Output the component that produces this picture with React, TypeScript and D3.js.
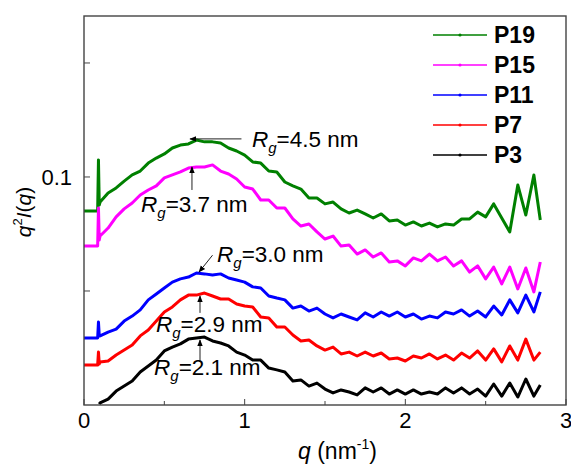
import React from "react";
import * as d3 from "d3";

// q values (nm^-1): a short lead-in near the beam stop, then the main grid
const qLead = [0, 0.085, 0.09, 0.095];
const qMain = [...d3.range(2, 57).map((i) => +(i * 0.05).toFixed(2)), 2.84];

// q^2 I(q), stacked curves
const p19Lead = [0.0851, 0.0851, 0.1075, 0.0877];
const p19 = [
  0.089, 0.093, 0.0952, 0.0982, 0.1009, 0.1026, 0.1061, 0.1083, 0.1101, 0.1127,
  0.114, 0.1145, 0.1162, 0.1154, 0.1154, 0.1149, 0.1127, 0.1114, 0.1096, 0.1066,
  0.1061, 0.1026, 0.1022, 0.0978, 0.0961, 0.0947, 0.0908, 0.0908, 0.0882, 0.089,
  0.086, 0.0842, 0.0855, 0.0838, 0.082, 0.0838, 0.0807, 0.0811, 0.0789, 0.0803,
  0.0785, 0.0798, 0.0781, 0.0794, 0.0789, 0.0816, 0.0816, 0.0846, 0.0825, 0.0882,
  0.082, 0.0759, 0.0965, 0.0833, 0.1009, 0.0811,
];
const p15Lead = [0.0697, 0.0697, 0.0864, 0.0724];
const p15 = [
  0.0741, 0.0776, 0.0825, 0.086, 0.0886, 0.0921, 0.0943, 0.0961, 0.0996, 0.1009,
  0.1022, 0.1039, 0.1044, 0.1044, 0.1053, 0.1026, 0.1013, 0.0991, 0.0956, 0.0947,
  0.0899, 0.0899, 0.0864, 0.0864, 0.0816, 0.0785, 0.0794, 0.0759, 0.0728, 0.0741,
  0.0697, 0.0702, 0.0662, 0.068, 0.0649, 0.0667, 0.0627, 0.0632, 0.061, 0.0645,
  0.0632, 0.0662, 0.0632, 0.0649, 0.061, 0.0632, 0.0583, 0.061, 0.0553, 0.0605,
  0.0531, 0.0605, 0.0509, 0.0601, 0.0496, 0.0627,
];
const p11Lead = [0.0294, 0.0294, 0.0364, 0.0303];
const p11 = [
  0.0303, 0.032, 0.0333, 0.0368, 0.039, 0.0417, 0.0461, 0.0487, 0.0513, 0.0539,
  0.0553, 0.0561, 0.0579, 0.0575, 0.057, 0.0575, 0.0557, 0.0548, 0.0539, 0.0518,
  0.0513, 0.0478, 0.0469, 0.0461, 0.0425, 0.0434, 0.0412, 0.0425, 0.0399, 0.0382,
  0.0399, 0.0386, 0.0373, 0.0404, 0.0386, 0.0408, 0.039, 0.0408, 0.0386, 0.0399,
  0.0377, 0.039, 0.0382, 0.0408, 0.0399, 0.0417, 0.039, 0.0412, 0.0386, 0.0434,
  0.0395, 0.0461, 0.0404, 0.0482, 0.0408, 0.0496,
];
const p7Lead = [0.0175, 0.0175, 0.0232, 0.018];
const p7 = [
  0.0189, 0.0193, 0.0219, 0.0241, 0.0263, 0.0303, 0.0329, 0.0368, 0.0408, 0.043,
  0.0461, 0.0482, 0.0482, 0.0491, 0.0478, 0.0465, 0.0465, 0.0443, 0.0434, 0.043,
  0.0386, 0.0382, 0.0342, 0.0342, 0.0307, 0.0281, 0.0285, 0.0259, 0.0241, 0.0254,
  0.0224, 0.0232, 0.0215, 0.0232, 0.0215, 0.0228, 0.0202, 0.0206, 0.0193, 0.0215,
  0.0206, 0.0224, 0.0202, 0.0219, 0.0197, 0.0228, 0.0206, 0.0237, 0.0197, 0.0246,
  0.0189, 0.0259, 0.0197, 0.0289, 0.0197, 0.0232,
];
const p3Lead = [null, null, null, 0.0004];
const p3 = [
  0.0009, 0.0026, 0.0061, 0.0083, 0.0105, 0.0145, 0.0171, 0.0197, 0.0237, 0.0254,
  0.0268, 0.0289, 0.0294, 0.0298, 0.0281, 0.0272, 0.0259, 0.0232, 0.0219, 0.0197,
  0.0197, 0.0162, 0.0154, 0.0145, 0.0105, 0.011, 0.0083, 0.0096, 0.007, 0.0053,
  0.0066, 0.0057, 0.0044, 0.0075, 0.0057, 0.0075, 0.0048, 0.0066, 0.0048, 0.0066,
  0.0048, 0.0057, 0.0048, 0.0075, 0.0053, 0.0075, 0.0048, 0.007, 0.0039, 0.0092,
  0.0039, 0.0096, 0.0035, 0.0114, 0.0039, 0.0088,
];

const seriesNames = ["P19", "P15", "P11", "P7", "P3"];
const seriesColors = ["#008000", "#ff00ff", "#0000ff", "#ff0000", "#000000"];
const seriesLeads = [p19Lead, p15Lead, p11Lead, p7Lead, p3Lead];
const seriesMain = [p19, p15, p11, p7, p3];

const xTicks = [0, 1, 2, 3];
const xMinor = [0.5, 1.5, 2.5];
const yTicks = [0.05, 0.1, 0.15];
const yLabelled = [0.1];

// Rg labels: text, arrow start/end and text anchor in data coords
const rgText = ["4.5", "3.7", "3.0", "2.9", "2.1"];
const rgArrows = [
  { from: [0.98, 0.1167], to: [0.66, 0.1167], text: [1.045, 0.1132] },
  { from: [0.672, 0.0943], to: [0.672, 0.1044], text: [0.355, 0.0846] },
  { from: [0.8, 0.0657], to: [0.716, 0.0583], text: [0.828, 0.0627] },
  { from: [0.722, 0.0404], to: [0.722, 0.0478], text: [0.448, 0.032] },
  { from: [0.722, 0.0189], to: [0.722, 0.0285], text: [0.436, 0.0132] },
];

const W = 571;
const H = 466;
const left = 84, right = 566, top = 16, bottom = 405;
const font = "Arial, 'Liberation Sans', sans-serif";

export default function App() {
  const x = d3.scaleLinear().domain([0, 3]).range([left, right]);
  const y = d3.scaleLinear().domain([0, 0.1706]).range([bottom, top]);

  const line = d3
    .line<[number, number | null]>()
    .defined((d) => d[1] != null)
    .x((d) => x(d[0]))
    .y((d) => y(d[1] as number));

  const series = seriesNames.map((name, i) => ({
    name,
    color: seriesColors[i],
    pts: [
      ...qLead.map((q, j) => [q, seriesLeads[i][j]] as [number, number | null]),
      ...qMain.map((q, j) => [q, seriesMain[i][j]] as [number, number | null]),
    ],
  }));

  return (
    <svg width={W} height={H} style={{ position: "absolute", left: 0, top: 0, background: "#fff" }} fontFamily={font}>
      <defs>
        <clipPath id="plot">
          <rect x={left} y={top} width={right - left} height={bottom - top} />
        </clipPath>
        <marker id="ah" viewBox="0 0 10 10" refX="9" refY="5" markerWidth="7" markerHeight="7" orient="auto">
          <path d="M0,1 L10,5 L0,9 z" fill="#000" />
        </marker>
      </defs>

      <g clipPath="url(#plot)">
        {series.map((s) => (
          <path key={s.name} d={line(s.pts) || ""} fill="none" stroke={s.color} strokeWidth={3} strokeLinejoin="round" />
        ))}
      </g>

      <rect x={left} y={top} width={right - left} height={bottom - top} fill="none" stroke="#444" strokeWidth={1.4} />

      {xTicks.map((t) => (
        <g key={"x" + t}>
          <line x1={x(t)} x2={x(t)} y1={bottom} y2={bottom - 6} stroke="#444" />
          <text x={x(t)} y={bottom + 23} textAnchor="middle" fontSize={22}>{t}</text>
        </g>
      ))}
      {xMinor.map((t) => (
        <line key={"xm" + t} x1={x(t)} x2={x(t)} y1={bottom} y2={bottom - 4} stroke="#444" />
      ))}
      {yTicks.map((t) => (
        <g key={"y" + t}>
          <line x1={left} x2={left + 6} y1={y(t)} y2={y(t)} stroke="#444" />
          {yLabelled.includes(t) && (
            <text x={left - 12} y={y(t) + 8} textAnchor="end" fontSize={22}>{t}</text>
          )}
        </g>
      ))}

      <text x={298} y={459} fontSize={23}>
        <tspan fontStyle="italic">q</tspan> (nm<tspan fontSize={14} dy={-10}>-1</tspan><tspan dy={10}>)</tspan>
      </text>
      <text transform="translate(31,212) rotate(-90)" textAnchor="middle" fontSize={21}>
        <tspan fontStyle="italic">q</tspan><tspan fontSize={13} dy={-9}>2</tspan>
        <tspan dy={9} fontStyle="italic">I</tspan>(<tspan fontStyle="italic">q</tspan>)
      </text>

      {rgArrows.map((a, i) => (
        <g key={"rg" + i}>
          <line x1={x(a.from[0])} y1={y(a.from[1])} x2={x(a.to[0])} y2={y(a.to[1])} stroke="#222" strokeWidth={1} markerEnd="url(#ah)" />
          <text x={x(a.text[0])} y={y(a.text[1])} fontSize={22.5}>
            <tspan fontStyle="italic">R</tspan>
            <tspan fontStyle="italic" fontSize={15} dy={6}>g</tspan>
            <tspan dy={-6}>={rgText[i]} nm</tspan>
          </text>
        </g>
      ))}

      {series.map((s, i) => {
        const ly = 35 + i * 30;
        return (
          <g key={"lg" + s.name}>
            <line x1={433} x2={487} y1={ly} y2={ly} stroke={s.color} strokeWidth={1.3} />
            <circle cx={460} cy={ly} r={1.6} fill={s.color} />
            <text x={494} y={ly + 8} fontSize={23} fontWeight="bold">{s.name}</text>
          </g>
        );
      })}
    </svg>
  );
}
